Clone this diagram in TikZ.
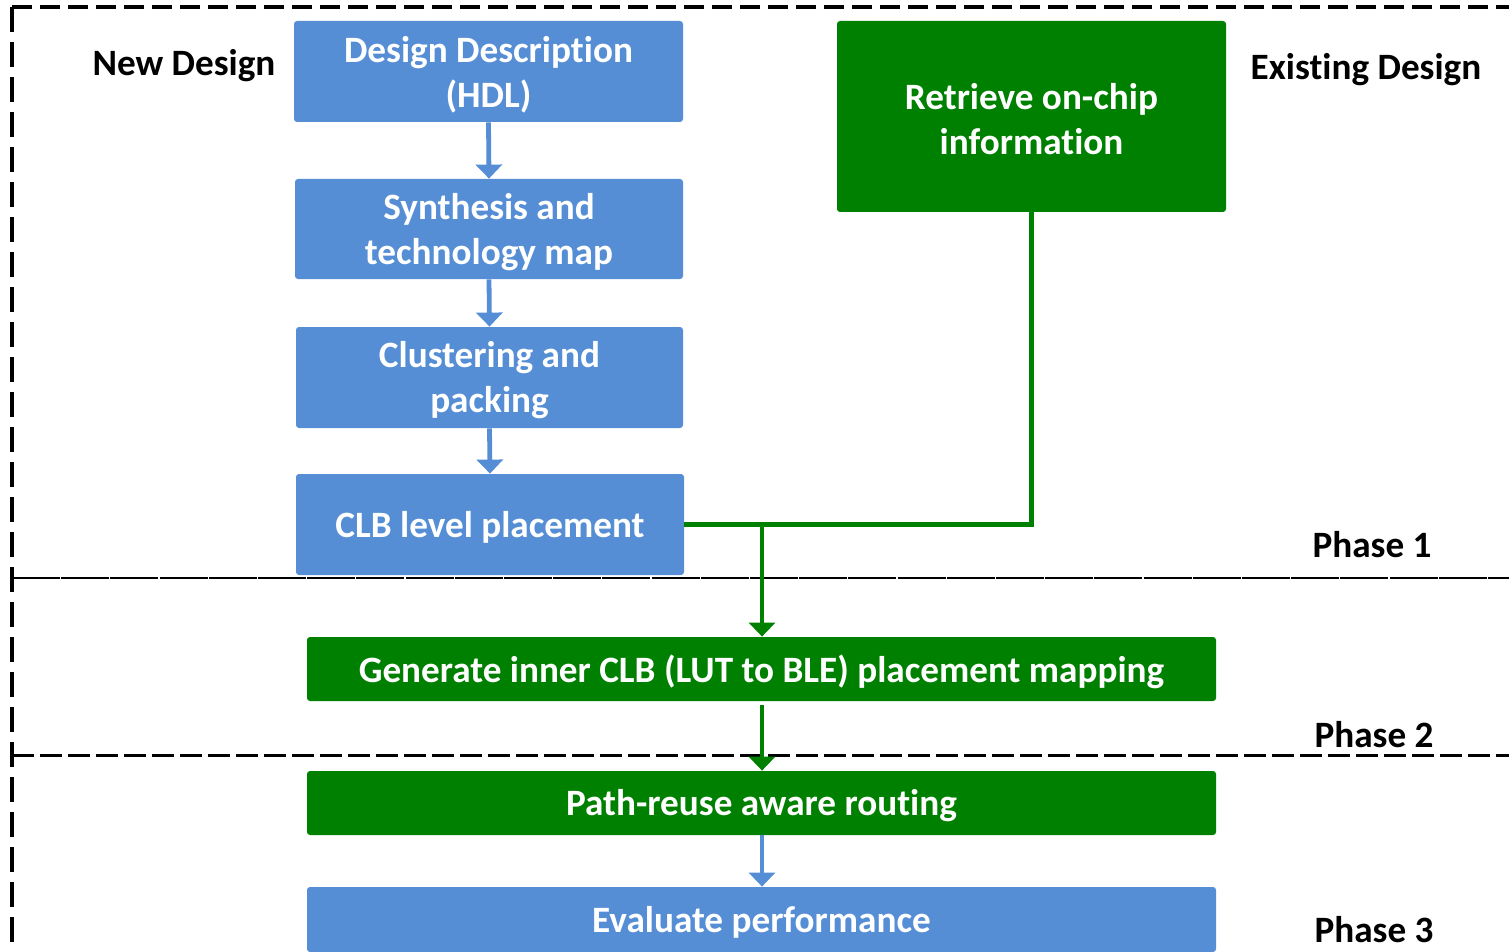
\documentclass[tikz,border=0pt]{standalone}
\usepackage{fontspec}
\setmainfont{Carlito}[RawFeature=-liga]
\usetikzlibrary{arrows.meta}
\definecolor{flowblue}{RGB}{85,142,213}
\definecolor{flowgreen}{RGB}{0,128,0}
\begin{document}
\begin{tikzpicture}[x=0.5pt,y=-0.5pt,
  every node/.style={font=\bfseries\fontsize{18.6pt}{22.5pt}\selectfont},
  box/.style={rectangle, rounded corners=1.5pt, inner sep=0pt},
  bluebox/.style={box, fill=flowblue},
  greenbox/.style={box, fill=flowgreen},
  boxtext/.style={text=white, align=center, yshift=-1.5pt},
  bluearrow/.style={draw=flowblue, line width=2.4pt, -{Triangle[width=13pt,length=7pt]}},
  greenarrow/.style={draw=flowgreen, line width=2.4pt, -{Triangle[width=13pt,length=7pt]}},
  greenline/.style={draw=flowgreen, line width=2.4pt},
  label/.style={text=black, yshift=-1pt}
]
\useasboundingbox (0,0) rectangle (1509,952);

% phase frame
\draw[line width=1.6pt, dash pattern=on 10pt off 4pt] (12,7) -- (1509,7);
\draw[line width=1.6pt, dash pattern=on 12.5pt off 5pt] (12,7) -- (12,952);
\draw[line width=1.3pt, dash pattern=on 24pt off 0.6pt] (12,578) -- (1509,578);
\draw[line width=1.5pt, dash pattern=on 11pt off 3pt] (12,755) -- (1509,755);

% process boxes
\node[bluebox, minimum width=194.5pt, minimum height=50.5pt] (hdl) at (488.5,71.5) {};
\node[bluebox, minimum width=194pt, minimum height=50pt] (syn) at (489,229) {};
\node[bluebox, minimum width=193.5pt, minimum height=50.5pt] (pack) at (489.5,377.5) {};
\node[bluebox, minimum width=194pt, minimum height=50.5pt] (place) at (490,524.5) {};
\node[greenbox, minimum width=194.5pt, minimum height=95.5pt] (chip) at (1031.5,116.5) {};
\node[greenbox, minimum width=454.5pt, minimum height=32pt] (inner) at (761.5,669) {};
\node[greenbox, minimum width=454.5pt, minimum height=32pt] (route) at (761.5,803) {};
\node[bluebox, minimum width=454.5pt, minimum height=32.5pt] (eval) at (761.5,919.5) {};

% box texts, placed on their boxes
\node[boxtext] (hdlt) at (hdl) {Design Description\\(HDL)};
\node[boxtext] (synt) at (syn) {Synthesis and\\technology map};
\node[boxtext] (packt) at (pack) {Clustering and\\packing};
\node[boxtext] (placet) at (place) {CLB level placement};
\node[boxtext] (chipt) at (chip) {Retrieve on-chip\\information};
\node[boxtext] (innert) at (inner) {Generate inner CLB (LUT to BLE) placement mapping};
\node[boxtext] (routet) at (route) {Path-reuse aware routing};
\node[boxtext] (evalt) at (eval) {Evaluate performance};

% side labels
\node[label] (newd) at (184,64) {New Design};
\node[label] (exist) at (1366,68) {Existing Design};
\node[label] (ph1) at (1372,543) {Phase 1};
\node[label] (ph2) at (1374,733) {Phase 2};
\node[label] (ph3) at (1374,928) {Phase 3};

% connectors
\draw[bluearrow] (hdl.south) -- (syn.north);
\draw[bluearrow] (syn.south) -- (pack.north);
\draw[bluearrow] (pack.south) -- (place.north);
\draw[greenline] (place.east) -| (chip.south);
\coordinate (join) at (762,524.5);
\draw[greenarrow] (join) -- (join |- inner.north);
\draw[greenarrow, shorten <=2pt] (join |- inner.south) -- (join |- route.north);
\draw[bluearrow] (join |- route.south) -- (join |- eval.north);
\end{tikzpicture}
\end{document}
